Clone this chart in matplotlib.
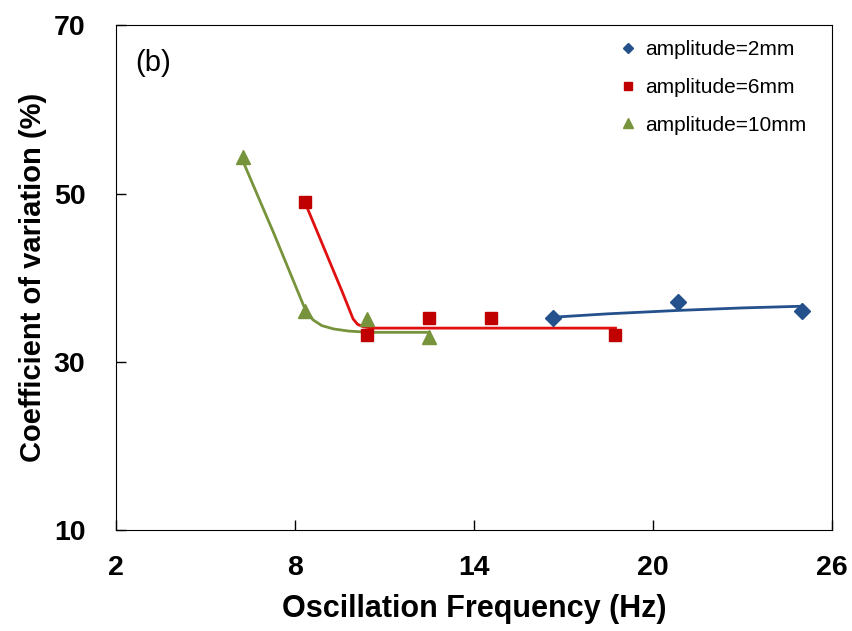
import matplotlib
matplotlib.use("Agg")
import matplotlib.pyplot as plt

# --- measured points ---
freq_2mm = [16.67, 20.83, 25.0]
cv_2mm = [35.2, 37.1, 36.0]

freq_6mm = [8.33, 10.42, 12.5, 14.58, 18.75]
cv_6mm = [49.0, 33.2, 35.2, 35.2, 33.2]

freq_10mm = [6.25, 8.33, 10.42, 12.5]
cv_10mm = [54.3, 36.0, 35.1, 33.0]

# --- trend lines ---
trend_2mm_x = [16.67, 18.5, 20.83, 23.0, 25.0]
trend_2mm_y = [35.3, 35.7, 36.1, 36.4, 36.6]

trend_6mm_x = [8.33, 9.6, 9.95, 10.1, 10.3, 10.6, 11.2, 18.75]
trend_6mm_y = [49.0, 38.2, 35.1, 34.45, 34.15, 34.0, 34.0, 34.0]

trend_10mm_x = [6.25, 7.3, 8.3, 8.6, 8.9, 9.3, 9.8, 10.5, 12.5]
trend_10mm_y = [53.9, 45.2, 36.6, 35.0, 34.3, 33.9, 33.65, 33.5, 33.5]

x_ticks = [2, 8, 14, 20, 26]
y_ticks = [10, 30, 50, 70]

blue = '#24508c'
red = '#c00000'
red_line = '#e01010'
green = '#77933c'

plt.rcParams['font.family'] = ['Liberation Sans', 'DejaVu Sans']

fig = plt.figure(figsize=(8.53, 6.31), dpi=100)
ax = fig.add_axes([0.136, 0.160, 0.839, 0.800])

ax.plot(trend_2mm_x, trend_2mm_y, color=blue, lw=2.0, zorder=2)
ax.plot(trend_6mm_x, trend_6mm_y, color=red_line, lw=2.0, zorder=2)
ax.plot(trend_10mm_x, trend_10mm_y, color=green, lw=2.0, zorder=2)

ax.plot(freq_2mm, cv_2mm, 'D', color=blue, ms=8, ls='none', label='amplitude=2mm', zorder=3)
ax.plot(freq_6mm, cv_6mm, 's', color=red, ms=9, ls='none', label='amplitude=6mm', zorder=3)
ax.plot(freq_10mm, cv_10mm, '^', color=green, ms=10, ls='none', label='amplitude=10mm', zorder=3)

ax.set_xlim(2, 26)
ax.set_ylim(10, 70)
ax.set_xticks(x_ticks)
ax.set_yticks(y_ticks)
ax.tick_params(direction='in', length=7, width=1, labelsize=20.5)
ax.tick_params(axis='x', pad=18)
ax.tick_params(axis='y', pad=22)
for lab in ax.get_xticklabels() + ax.get_yticklabels():
    lab.set_fontweight('bold')

ax.set_xlabel('Oscillation Frequency (Hz)', fontsize=22, fontweight='bold', labelpad=9)
ax.set_ylabel('Coefficient of variation (%)', fontsize=21, fontweight='bold', labelpad=5)

ax.text(0.027, 0.952, '(b)', transform=ax.transAxes, fontsize=21, va='top')

leg = ax.legend(loc='upper left', bbox_to_anchor=(0.689, 0.987), frameon=False,
                fontsize=15, markerscale=0.7, handletextpad=0.35, handlelength=1.0,
                labelspacing=0.9, borderaxespad=0)

fig.savefig('out.png', dpi=100)
